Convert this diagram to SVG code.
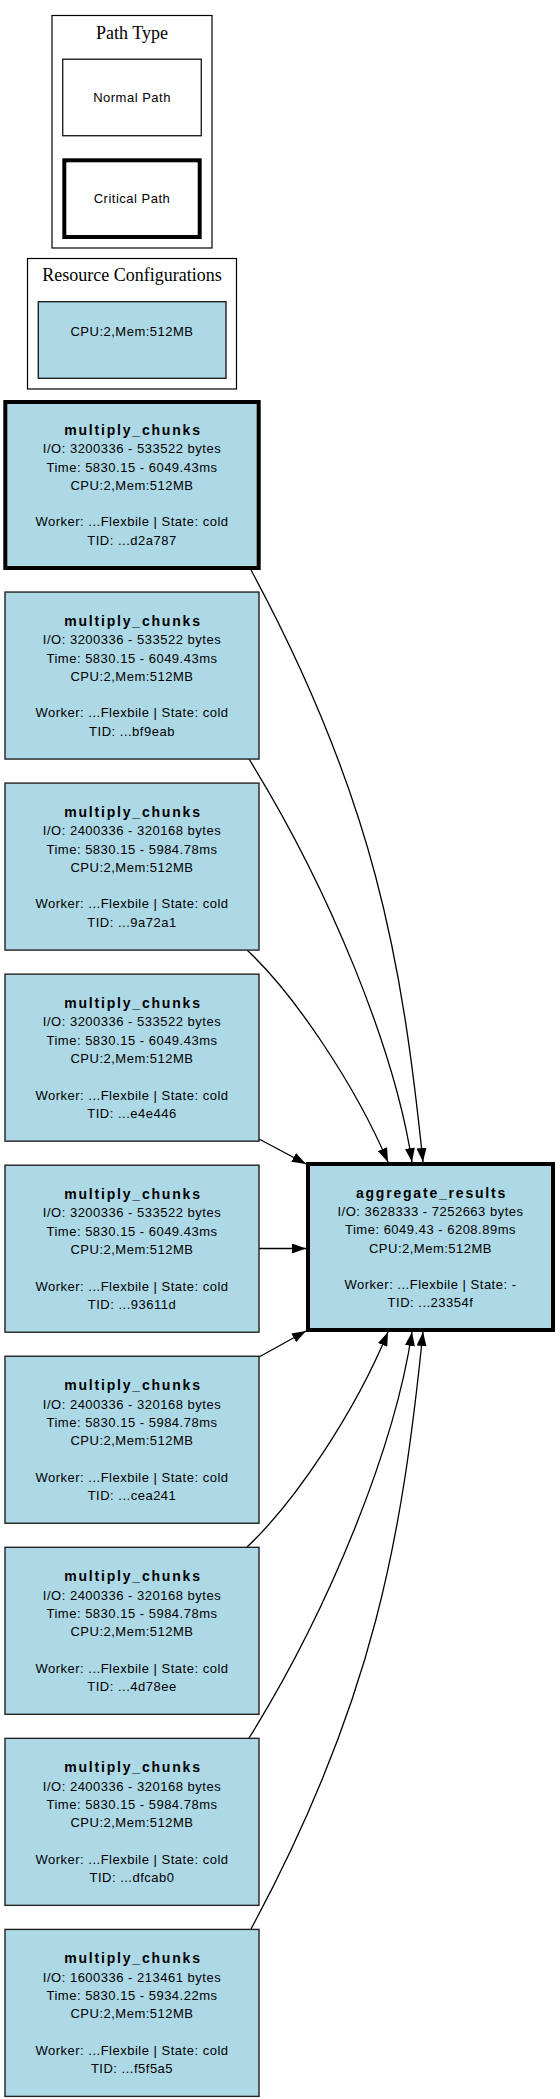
<svg xmlns="http://www.w3.org/2000/svg" width="560" height="2099" viewBox="0 0 560 2099">
<style>
.bg{fill:#ffffff}
.cl{fill:none;stroke:#000;stroke-width:1.2}
.ct{font-family:"Liberation Serif",serif;font-size:18px;fill:#000;text-anchor:middle}
.nd{fill:#add8e6;stroke:#222;stroke-width:1.4}
.wh{fill:#ffffff;stroke:#222;stroke-width:1.4}
.crit{stroke:#000;stroke-width:4}
.t{font-family:"Liberation Sans",Arial,sans-serif;font-size:13px;letter-spacing:0.5px;fill:#000;text-anchor:middle}
.b{font-family:"Liberation Sans",Arial,sans-serif;font-size:14px;font-weight:bold;letter-spacing:1.8px;fill:#000;text-anchor:middle}
.e{fill:none;stroke:#000;stroke-width:1.3}
</style>
<defs>
<marker id="ah" viewBox="0 0 14 10" refX="14" refY="5" markerWidth="14" markerHeight="10" markerUnits="userSpaceOnUse" orient="auto">
<path d="M0,0 L14,5 L0,10 Z" fill="#000"/>
</marker>
</defs>
<rect class="bg" x="0" y="0" width="560" height="2099"/>

<g id="legend-path-type">
<rect class="cl" x="52" y="15.5" width="160" height="232.5"/>
<text class="ct" x="132" y="39">Path Type</text>
<g id="legend-normal">
<rect class="wh" x="62.7" y="59.2" width="138.6" height="76.5"/>
<text class="t" x="132" y="101.7">Normal Path</text>
</g>
<g id="legend-critical">
<rect class="wh crit" x="64.3" y="160.3" width="135.4" height="76.7"/>
<text class="t" x="132" y="202.7">Critical Path</text>
</g>
</g>

<g id="legend-resources">
<rect class="cl" x="27.5" y="258.5" width="209" height="130.5"/>
<text class="ct" x="132" y="281">Resource Configurations</text>
<g id="res-cpu2">
<rect class="nd" x="38.3" y="301.7" width="187.7" height="76.6"/>
<text class="t" x="132" y="335.7">CPU:2,Mem:512MB</text>
</g>
</g>

<g id="edges">
<path class="e" marker-end="url(#ah)" d="M251,570 C375,800 402,960 423,1162"/>
<path class="e" marker-end="url(#ah)" d="M249,759 C330,890 395,1050 412,1162"/>
<path class="e" marker-end="url(#ah)" d="M247,950 C295,995 355,1085 388,1162"/>
<path class="e" marker-end="url(#ah)" d="M259,1139 L306,1164"/>
<path class="e" marker-end="url(#ah)" d="M259,1248.5 L306,1248.5"/>
<path class="e" marker-end="url(#ah)" d="M259,1357 L306,1331"/>
<path class="e" marker-end="url(#ah)" d="M247,1547 C295,1502 355,1412 388,1332"/>
<path class="e" marker-end="url(#ah)" d="M249,1738 C330,1608 395,1446 412,1332"/>
<path class="e" marker-end="url(#ah)" d="M251,1929 C375,1699 402,1536 423,1332"/>
</g>

<g id="n1">
<rect class="nd crit" x="5.3" y="402" width="253.4" height="166"/>
<text class="b" x="133" y="434.9">multiply_chunks</text>
<text class="t" x="132" y="453.2">I/O: 3200336 - 533522 bytes</text>
<text class="t" x="132" y="471.5">Time: 5830.15 - 6049.43ms</text>
<text class="t" x="132" y="489.8">CPU:2,Mem:512MB</text>
<text class="t" x="132" y="526.3">Worker: ...Flexbile | State: cold</text>
<text class="t" x="132" y="544.5">TID: ...d2a787</text>
</g>

<g id="n2">
<rect class="nd" x="5" y="592.05" width="254" height="167"/>
<text class="b" x="133" y="626">multiply_chunks</text>
<text class="t" x="132" y="644.3">I/O: 3200336 - 533522 bytes</text>
<text class="t" x="132" y="662.6">Time: 5830.15 - 6049.43ms</text>
<text class="t" x="132" y="680.9">CPU:2,Mem:512MB</text>
<text class="t" x="132" y="717.4">Worker: ...Flexbile | State: cold</text>
<text class="t" x="132" y="735.6">TID: ...bf9eab</text>
</g>

<g id="n3">
<rect class="nd" x="5" y="783.1" width="254" height="167"/>
<text class="b" x="133" y="817">multiply_chunks</text>
<text class="t" x="132" y="835.3">I/O: 2400336 - 320168 bytes</text>
<text class="t" x="132" y="853.6">Time: 5830.15 - 5984.78ms</text>
<text class="t" x="132" y="871.9">CPU:2,Mem:512MB</text>
<text class="t" x="132" y="908.4">Worker: ...Flexbile | State: cold</text>
<text class="t" x="132" y="926.6">TID: ...9a72a1</text>
</g>

<g id="n4">
<rect class="nd" x="5" y="974.15" width="254" height="167"/>
<text class="b" x="133" y="1008.1">multiply_chunks</text>
<text class="t" x="132" y="1026.4">I/O: 3200336 - 533522 bytes</text>
<text class="t" x="132" y="1044.7">Time: 5830.15 - 6049.43ms</text>
<text class="t" x="132" y="1063">CPU:2,Mem:512MB</text>
<text class="t" x="132" y="1099.5">Worker: ...Flexbile | State: cold</text>
<text class="t" x="132" y="1117.7">TID: ...e4e446</text>
</g>

<g id="n5">
<rect class="nd" x="5" y="1165.2" width="254" height="167"/>
<text class="b" x="133" y="1199.1">multiply_chunks</text>
<text class="t" x="132" y="1217.4">I/O: 3200336 - 533522 bytes</text>
<text class="t" x="132" y="1235.7">Time: 5830.15 - 6049.43ms</text>
<text class="t" x="132" y="1254">CPU:2,Mem:512MB</text>
<text class="t" x="132" y="1290.5">Worker: ...Flexbile | State: cold</text>
<text class="t" x="132" y="1308.7">TID: ...93611d</text>
</g>

<g id="n6">
<rect class="nd" x="5" y="1356.25" width="254" height="167"/>
<text class="b" x="133" y="1390.2">multiply_chunks</text>
<text class="t" x="132" y="1408.5">I/O: 2400336 - 320168 bytes</text>
<text class="t" x="132" y="1426.8">Time: 5830.15 - 5984.78ms</text>
<text class="t" x="132" y="1445.1">CPU:2,Mem:512MB</text>
<text class="t" x="132" y="1481.6">Worker: ...Flexbile | State: cold</text>
<text class="t" x="132" y="1499.8">TID: ...cea241</text>
</g>

<g id="n7">
<rect class="nd" x="5" y="1547.3" width="254" height="167"/>
<text class="b" x="133" y="1581.2">multiply_chunks</text>
<text class="t" x="132" y="1599.5">I/O: 2400336 - 320168 bytes</text>
<text class="t" x="132" y="1617.8">Time: 5830.15 - 5984.78ms</text>
<text class="t" x="132" y="1636.1">CPU:2,Mem:512MB</text>
<text class="t" x="132" y="1672.6">Worker: ...Flexbile | State: cold</text>
<text class="t" x="132" y="1690.8">TID: ...4d78ee</text>
</g>

<g id="n8">
<rect class="nd" x="5" y="1738.35" width="254" height="167"/>
<text class="b" x="133" y="1772.3">multiply_chunks</text>
<text class="t" x="132" y="1790.6">I/O: 2400336 - 320168 bytes</text>
<text class="t" x="132" y="1808.9">Time: 5830.15 - 5984.78ms</text>
<text class="t" x="132" y="1827.2">CPU:2,Mem:512MB</text>
<text class="t" x="132" y="1863.7">Worker: ...Flexbile | State: cold</text>
<text class="t" x="132" y="1881.9">TID: ...dfcab0</text>
</g>

<g id="n9">
<rect class="nd" x="5" y="1929.4" width="254" height="167"/>
<text class="b" x="133" y="1963.3">multiply_chunks</text>
<text class="t" x="132" y="1981.6">I/O: 1600336 - 213461 bytes</text>
<text class="t" x="132" y="1999.9">Time: 5830.15 - 5934.22ms</text>
<text class="t" x="132" y="2018.2">CPU:2,Mem:512MB</text>
<text class="t" x="132" y="2054.7">Worker: ...Flexbile | State: cold</text>
<text class="t" x="132" y="2072.9">TID: ...f5f5a5</text>
</g>

<g id="agg">
<rect class="nd crit" x="308" y="1164" width="245" height="166"/>
<text class="b" x="431.5" y="1197.6">aggregate_results</text>
<text class="t" x="430.5" y="1216">I/O: 3628333 - 7252663 bytes</text>
<text class="t" x="430.5" y="1234.3">Time: 6049.43 - 6208.89ms</text>
<text class="t" x="430.5" y="1252.5">CPU:2,Mem:512MB</text>
<text class="t" x="430.5" y="1289">Worker: ...Flexbile | State: -</text>
<text class="t" x="430.5" y="1307.2">TID: ...23354f</text>
</g>
</svg>
